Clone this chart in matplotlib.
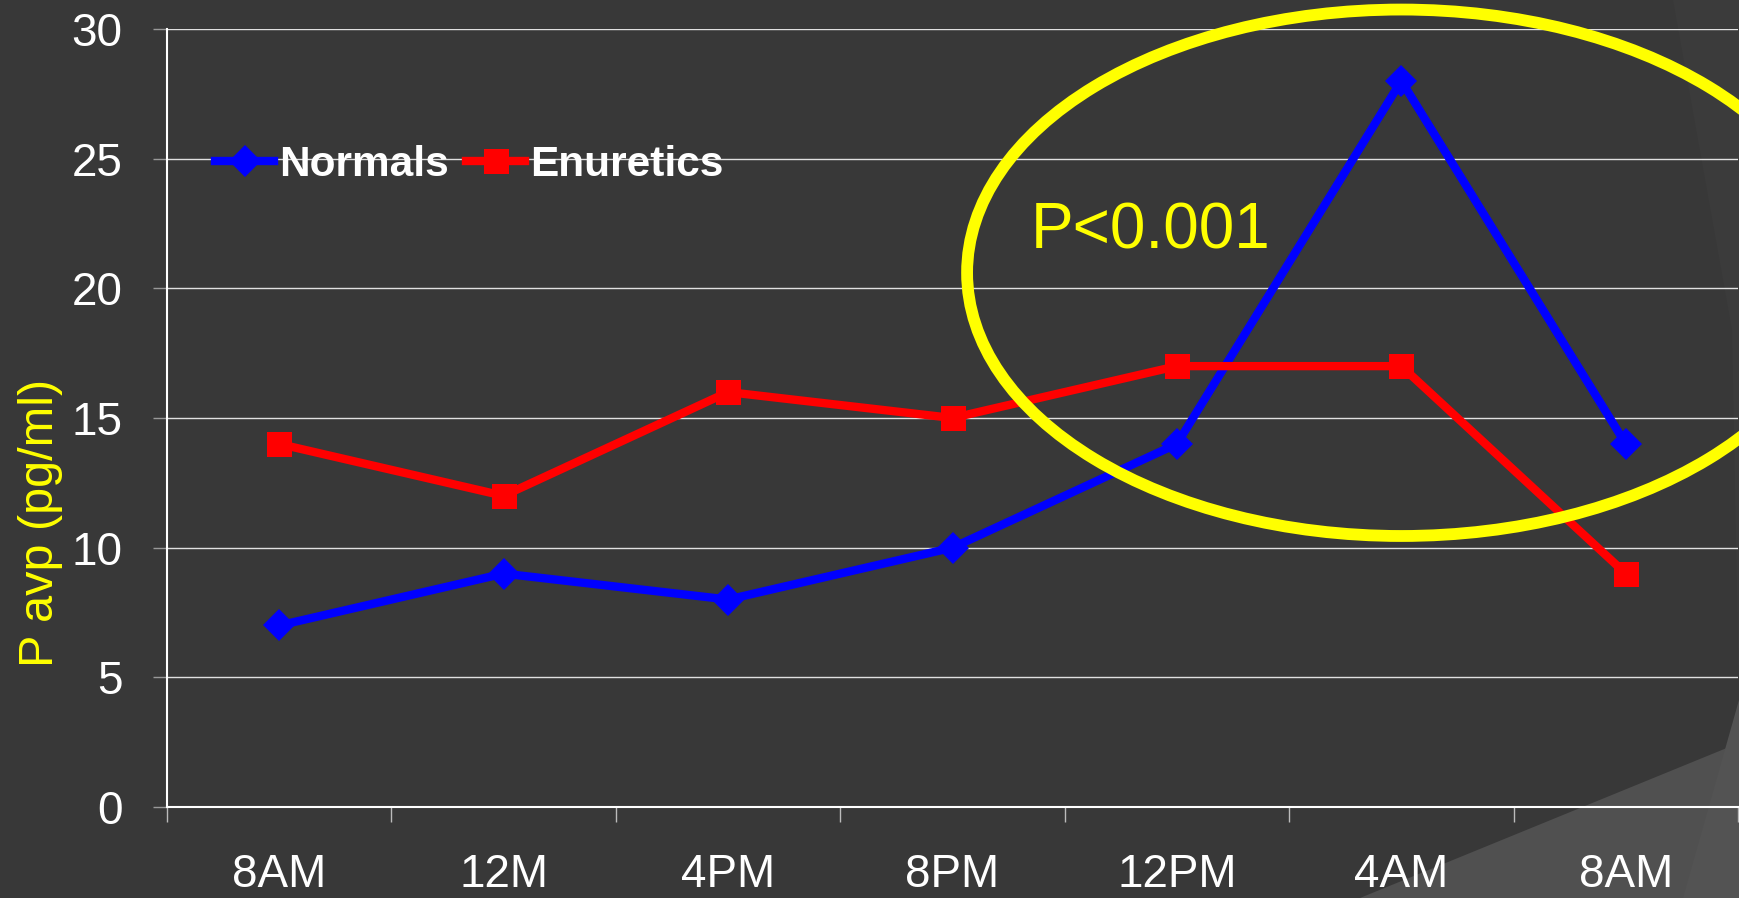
import matplotlib
matplotlib.use("Agg")
import numpy as np
from matplotlib import pyplot as plt
from matplotlib.patches import Ellipse, Polygon

plt.rcParams['font.family'] = ['Liberation Sans', 'DejaVu Sans']

# data
times = ['8AM', '12M', '4PM', '8PM', '12PM', '4AM', '8AM']
normals = [7, 9, 8, 10, 14, 28, 14]
enuretics = [14, 12, 16, 15, 17, 17, 9]
y_ticks = [0, 5, 10, 15, 20, 25, 30]

W, H = 1739, 898
bg = '#383838'

fig = plt.figure(figsize=(W / 100, H / 100), dpi=100, facecolor=bg)


def px(x, y):
    # pixel position -> figure fraction
    return (x / W, 1 - y / H)


# slide decoration in the right corners (behind the axes)
fig.patches.append(Polygon([px(1360, 898), px(1739, 743), px(1739, 898)],
                           closed=True, transform=fig.transFigure,
                           facecolor='#505050', edgecolor='none', zorder=-2))
fig.patches.append(Polygon([px(1683, 898), px(1739, 700), px(1739, 898)],
                           closed=True, transform=fig.transFigure,
                           facecolor='#535353', edgecolor='none', zorder=-1))
fig.patches.append(Polygon([px(1673, 0), px(1739, 0), px(1739, 700), px(1732, 330)],
                           closed=True, transform=fig.transFigure,
                           facecolor='#3b3b3b', edgecolor='none', zorder=-2))

ax = fig.add_axes([167 / W, 1 - 807 / H, (1738 - 167) / W, (807 - 29) / H])
ax.set_facecolor('none')
ax.set_zorder(2)

x = np.arange(len(times))
ax.plot(x, normals, color='#0000ff', lw=6, marker='D', ms=16,
        mec='#0000ff', mew=0, label='Normals', zorder=3)
ax.plot(x, enuretics, color='#ff0000', lw=6, marker='s', ms=18,
        mec='#ff0000', mew=0, label='Enuretics', zorder=3)

ax.set_xlim(-0.5, len(times) - 0.5)
ax.set_ylim(0, 30)

ax.set_yticks(y_ticks)
ax.set_yticklabels([str(v) for v in y_ticks])
ax.set_xticks(x)
ax.set_xticklabels(times)
ax.set_xticks(np.arange(-0.5, len(times)), minor=True)

ax.tick_params(axis='x', which='major', length=0, pad=33, labelsize=33,
               labelcolor='white')
ax.tick_params(axis='x', which='minor', length=11, width=1, color='#bbbbbb',
               direction='out')
ax.tick_params(axis='y', length=10, width=1, color='#999999', pad=22,
               labelsize=33, labelcolor='white')

ax.yaxis.grid(True, color='white', lw=1, alpha=0.85)
ax.set_axisbelow(True)
for side in ['top', 'right']:
    ax.spines[side].set_visible(False)
for side in ['left', 'bottom']:
    ax.spines[side].set_color('white')
    ax.spines[side].set_linewidth(1.5)

ax.set_ylabel('P avp (pg/ml)', color='#ffff00', fontsize=35)
ax.yaxis.set_label_coords(-0.066, 0.365)

leg = ax.legend(loc='center left', bbox_to_anchor=px(215, 165),
                bbox_transform=fig.transFigure, ncol=2, frameon=False,
                borderpad=0, borderaxespad=0, handlelength=1.4,
                handletextpad=0.12, columnspacing=0.4, numpoints=1,
                prop={'size': 30.5, 'weight': 'bold'})
for t in leg.get_texts():
    t.set_color('white')

# highlight ellipse round the night values
ell = Ellipse((5.0, 20.6), width=3.87, height=20.3, fill=False,
              edgecolor='#ffff00', lw=8.5, clip_on=False, zorder=4)
ax.add_patch(ell)
ax.text(3.35, 22.2, 'P<0.001', color='#ffff00', fontsize=46,
        ha='left', va='center', zorder=5)

fig.savefig('out.png', dpi=100, facecolor=bg)
